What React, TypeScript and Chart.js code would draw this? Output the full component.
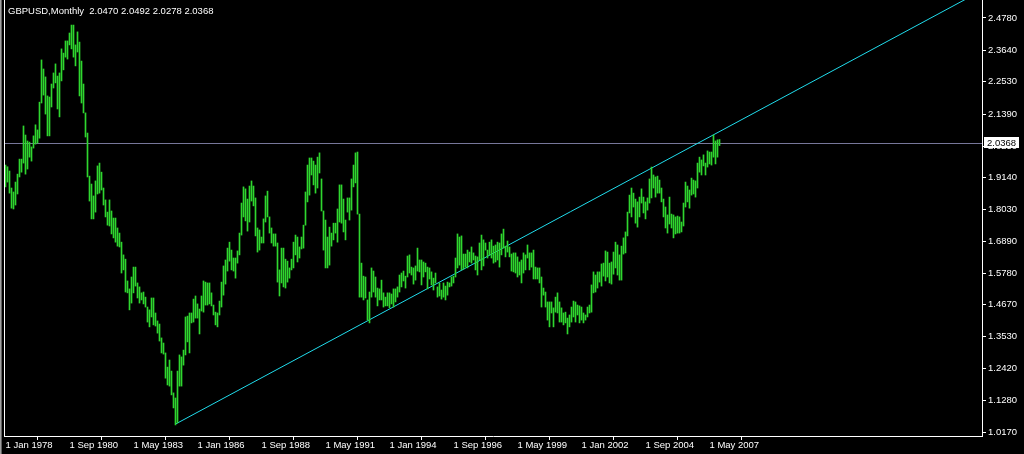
import React, { useEffect, useRef } from "react";
import { Chart, registerables } from "chart.js";

Chart.register(...registerables);

// ---- data (monthly bars from Jan 1978, index 0 = Jan 1978) ----
const SYMBOL_TITLE = "GBPUSD,Monthly  2.0470 2.0492 2.0278 2.0368";
const BID_PRICE = 2.0368;

const monthHighs = [
  1.959, 1.953, 1.938, 1.878, 1.864, 1.899, 1.927, 1.980, 1.980, 2.097,
  2.065, 2.044, 2.040, 2.023, 2.062, 2.101, 2.083, 2.181, 2.330, 2.298,
  2.270, 2.203, 2.199, 2.245, 2.284, 2.316, 2.273, 2.284, 2.369, 2.354,
  2.397, 2.397, 2.425, 2.453, 2.453, 2.383, 2.429, 2.393, 2.326, 2.245,
  2.143, 2.072, 1.920, 1.892, 1.850, 1.903, 1.956, 1.966, 1.934, 1.878,
  1.836, 1.793, 1.836, 1.797, 1.772, 1.772, 1.737, 1.719, 1.687, 1.642,
  1.627, 1.550, 1.522, 1.564, 1.599, 1.599, 1.543, 1.529, 1.508, 1.511,
  1.493, 1.458, 1.448, 1.490, 1.490, 1.437, 1.409, 1.398, 1.349, 1.331,
  1.296, 1.246, 1.271, 1.232, 1.155, 1.137, 1.232, 1.289, 1.282, 1.306,
  1.423, 1.426, 1.437, 1.437, 1.486, 1.497, 1.469, 1.451, 1.497, 1.550,
  1.546, 1.543, 1.543, 1.508, 1.465, 1.440, 1.437, 1.479, 1.546, 1.603,
  1.624, 1.666, 1.687, 1.659, 1.631, 1.631, 1.656, 1.719, 1.825, 1.882,
  1.875, 1.839, 1.885, 1.903, 1.885, 1.843, 1.737, 1.730, 1.705, 1.769,
  1.850, 1.867, 1.776, 1.737, 1.716, 1.716, 1.684, 1.589, 1.666, 1.666,
  1.627, 1.620, 1.596, 1.627, 1.687, 1.712, 1.705, 1.670, 1.705, 1.747,
  1.864, 1.959, 1.984, 1.984, 1.973, 1.959, 1.987, 2.002, 1.910, 1.797,
  1.765, 1.705, 1.740, 1.719, 1.754, 1.754, 1.804, 1.889, 1.889, 1.839,
  1.765, 1.843, 1.843, 1.910, 1.959, 2.002, 2.005, 1.786, 1.613, 1.567,
  1.564, 1.483, 1.511, 1.596, 1.585, 1.564, 1.525, 1.522, 1.553, 1.508,
  1.493, 1.508, 1.508, 1.504, 1.522, 1.522, 1.529, 1.571, 1.578, 1.585,
  1.567, 1.638, 1.642, 1.599, 1.596, 1.603, 1.666, 1.624, 1.624, 1.617,
  1.613, 1.599, 1.596, 1.582, 1.560, 1.578, 1.529, 1.543, 1.518, 1.543,
  1.532, 1.546, 1.543, 1.564, 1.567, 1.631, 1.716, 1.705, 1.709, 1.645,
  1.645, 1.659, 1.652, 1.670, 1.649, 1.638, 1.635, 1.684, 1.712, 1.695,
  1.684, 1.659, 1.687, 1.695, 1.673, 1.677, 1.687, 1.684, 1.716, 1.733,
  1.673, 1.691, 1.670, 1.645, 1.649, 1.649, 1.635, 1.617, 1.624, 1.649,
  1.642, 1.677, 1.649, 1.649, 1.659, 1.599, 1.596, 1.596, 1.564, 1.525,
  1.511, 1.476, 1.476, 1.476, 1.455, 1.493, 1.508, 1.476, 1.455, 1.437,
  1.440, 1.419, 1.430, 1.458, 1.479, 1.476, 1.465, 1.462, 1.458, 1.437,
  1.430, 1.458, 1.465, 1.536, 1.582, 1.571, 1.582, 1.582, 1.610, 1.613,
  1.656, 1.652, 1.613, 1.617, 1.652, 1.687, 1.677, 1.642, 1.673, 1.702,
  1.723, 1.793, 1.853, 1.878, 1.860, 1.839, 1.829, 1.846, 1.875, 1.846,
  1.829, 1.843, 1.910, 1.952, 1.924, 1.917, 1.920, 1.906, 1.878, 1.839,
  1.811, 1.783, 1.846, 1.786, 1.783, 1.776, 1.779, 1.776, 1.758, 1.825,
  1.899, 1.885, 1.871, 1.913, 1.906, 1.903, 1.966, 1.987, 1.977, 1.995,
  1.966, 2.009, 2.005, 2.005, 2.065, 2.044, 2.048, 2.0492,
];

const monthLows = [
  1.882, 1.899, 1.860, 1.807, 1.804, 1.818, 1.857, 1.917, 1.934, 1.966,
  1.927, 1.945, 1.987, 1.973, 2.019, 2.033, 2.037, 2.054, 2.178, 2.206,
  2.139, 2.062, 2.062, 2.164, 2.231, 2.249, 2.157, 2.129, 2.256, 2.295,
  2.340, 2.333, 2.383, 2.369, 2.340, 2.309, 2.358, 2.203, 2.178, 2.143,
  2.058, 1.917, 1.832, 1.769, 1.769, 1.793, 1.857, 1.860, 1.871, 1.818,
  1.776, 1.747, 1.744, 1.716, 1.702, 1.687, 1.673, 1.670, 1.578, 1.589,
  1.511, 1.508, 1.448, 1.472, 1.508, 1.532, 1.490, 1.472, 1.483, 1.469,
  1.458, 1.405, 1.388, 1.423, 1.395, 1.391, 1.366, 1.338, 1.296, 1.292,
  1.207, 1.183, 1.179, 1.148, 1.102, 1.042, 1.049, 1.179, 1.179, 1.253,
  1.289, 1.335, 1.296, 1.402, 1.405, 1.419, 1.419, 1.363, 1.444, 1.440,
  1.465, 1.465, 1.469, 1.462, 1.430, 1.395, 1.388, 1.430, 1.458, 1.500,
  1.539, 1.585, 1.620, 1.589, 1.585, 1.560, 1.613, 1.642, 1.712, 1.776,
  1.762, 1.726, 1.758, 1.832, 1.815, 1.709, 1.652, 1.659, 1.684, 1.684,
  1.758, 1.776, 1.719, 1.684, 1.673, 1.673, 1.546, 1.497, 1.543, 1.529,
  1.525, 1.546, 1.560, 1.589, 1.596, 1.642, 1.617, 1.631, 1.663, 1.666,
  1.747, 1.829, 1.853, 1.924, 1.889, 1.860, 1.878, 1.931, 1.797, 1.659,
  1.596, 1.596, 1.606, 1.673, 1.695, 1.719, 1.687, 1.758, 1.754, 1.723,
  1.695, 1.793, 1.765, 1.800, 1.882, 1.896, 1.786, 1.493, 1.493, 1.483,
  1.490, 1.412, 1.402, 1.493, 1.511, 1.493, 1.462, 1.483, 1.483, 1.458,
  1.462, 1.462, 1.455, 1.469, 1.458, 1.476, 1.493, 1.511, 1.529, 1.550,
  1.525, 1.564, 1.578, 1.571, 1.539, 1.553, 1.585, 1.582, 1.536, 1.564,
  1.582, 1.522, 1.557, 1.536, 1.518, 1.543, 1.493, 1.497, 1.486, 1.493,
  1.483, 1.500, 1.529, 1.532, 1.543, 1.564, 1.596, 1.606, 1.589, 1.592,
  1.599, 1.596, 1.617, 1.613, 1.624, 1.589, 1.571, 1.624, 1.589, 1.603,
  1.659, 1.631, 1.642, 1.631, 1.613, 1.617, 1.624, 1.599, 1.642, 1.666,
  1.635, 1.652, 1.635, 1.585, 1.582, 1.578, 1.564, 1.571, 1.543, 1.578,
  1.589, 1.631, 1.589, 1.599, 1.557, 1.557, 1.557, 1.543, 1.458, 1.500,
  1.458, 1.412, 1.388, 1.437, 1.388, 1.440, 1.437, 1.405, 1.405, 1.395,
  1.402, 1.363, 1.388, 1.405, 1.423, 1.405, 1.430, 1.402, 1.412, 1.402,
  1.412, 1.423, 1.437, 1.440, 1.508, 1.511, 1.525, 1.546, 1.532, 1.567,
  1.550, 1.564, 1.543, 1.539, 1.574, 1.596, 1.571, 1.553, 1.553, 1.645,
  1.649, 1.709, 1.790, 1.776, 1.811, 1.754, 1.740, 1.776, 1.825, 1.790,
  1.769, 1.800, 1.825, 1.843, 1.878, 1.846, 1.860, 1.860, 1.829, 1.776,
  1.737, 1.719, 1.751, 1.737, 1.702, 1.716, 1.719, 1.719, 1.723, 1.744,
  1.811, 1.829, 1.807, 1.853, 1.857, 1.846, 1.878, 1.934, 1.924, 1.956,
  1.924, 1.952, 1.963, 1.959, 1.987, 1.963, 1.987, 2.0278,
];

const xTickMonths = [0, 32, 64, 96, 128, 160, 192, 224, 256, 288, 320, 352];
const xTickLabels = [
  "1 Jan 1978", "1 Sep 1980", "1 May 1983", "1 Jan 1986", "1 Sep 1988", "1 May 1991",
  "1 Jan 1994", "1 Sep 1996", "1 May 1999", "1 Jan 2002", "1 Sep 2004", "1 May 2007",
];
const yTickValues = [
  2.478, 2.364, 2.253, 2.139, 2.025, 1.914, 1.803, 1.689, 1.578, 1.467, 1.353, 1.242, 1.128, 1.017,
];

// trend line: from the Feb 1985 low, extended as a ray to the right
const trendMonths = [85, 480];
const trendPrices = [1.045, 2.544];

// visible ranges
const X_MIN = -0.75;
const X_MAX = 488.25;
const Y_MIN = 1.0029;
const Y_MAX = 2.5415;

// ---- style ----
const BG = "#000000";
const BAR_COLOR = "#2fd62f";
const TREND_COLOR = "#20dcec";
const BID_COLOR = "#77779a";
const AXIS_COLOR = "#ffffff";
const FONT_FAMILY = "'Liberation Sans', Arial, sans-serif";

const overlayPlugin = {
  id: "mt4Overlay",
  beforeDraw(chart: any) {
    const { ctx, width, height } = chart;
    ctx.save();
    ctx.fillStyle = BG;
    ctx.fillRect(0, 0, width, height);
    ctx.restore();
  },
  beforeDatasetsDraw(chart: any) {
    const { ctx, chartArea, scales } = chart;
    const y = Math.round(scales.y.getPixelForValue(BID_PRICE));
    ctx.save();
    ctx.fillStyle = BID_COLOR;
    ctx.fillRect(chartArea.left, y, chartArea.right - chartArea.left, 1);
    ctx.restore();
  },
  afterDraw(chart: any) {
    const { ctx, chartArea, scales, height } = chart;
    ctx.save();
    // window frame on the far left
    ctx.fillStyle = "#a0a0a0";
    ctx.fillRect(0, 0, 1, height);
    ctx.fillStyle = "#606060";
    ctx.fillRect(1, 0, 1, height);
    // left border of the plot
    ctx.fillStyle = AXIS_COLOR;
    ctx.fillRect(Math.round(chartArea.left), 0, 1, Math.round(chartArea.bottom) + 1);
    // title
    ctx.font = `9.5px ${FONT_FAMILY}`;
    ctx.fillStyle = "#ffffff";
    ctx.textBaseline = "alphabetic";
    ctx.textAlign = "left";
    ctx.fillText(SYMBOL_TITLE, 8, 14);
    // bid price label
    const y = Math.round(scales.y.getPixelForValue(BID_PRICE));
    const x0 = Math.round(chartArea.right) + 2;
    ctx.fillStyle = "#ffffff";
    ctx.fillRect(x0, y - 6, 35, 11);
    ctx.fillStyle = "#000000";
    ctx.textBaseline = "middle";
    ctx.fillText(BID_PRICE.toFixed(4), x0 + 3, y);
    ctx.restore();
  },
};

export default function App() {
  const canvasRef = useRef<HTMLCanvasElement | null>(null);

  useEffect(() => {
    const canvas = canvasRef.current;
    if (!canvas) return;

    const barData = monthHighs.map((h, i) => ({ x: i, y: [monthLows[i], h] }));
    const trendData = trendMonths.map((m, k) => ({ x: m, y: trendPrices[k] }));

    const tickFont = { family: FONT_FAMILY, size: 9.5 };

    const chart = new Chart(canvas, {
      type: "bar",
      data: {
        datasets: [
          {
            type: "bar",
            data: barData as any,
            backgroundColor: BAR_COLOR,
            borderWidth: 0,
            barThickness: 1,
          } as any,
          {
            type: "line",
            data: trendData as any,
            borderColor: TREND_COLOR,
            borderWidth: 1,
            pointRadius: 0,
            fill: false,
            tension: 0,
          } as any,
        ],
      },
      options: {
        animation: false,
        responsive: false,
        maintainAspectRatio: false,
        parsing: true,
        layout: { padding: { left: 4, top: 0, right: 0, bottom: 0 } },
        plugins: {
          legend: { display: false },
          tooltip: { enabled: false },
          title: { display: false },
        },
        scales: {
          x: {
            type: "linear",
            position: "bottom",
            min: X_MIN,
            max: X_MAX,
            offset: false,
            afterBuildTicks: (s: any) => {
              s.ticks = xTickMonths.map((v) => ({ value: v }));
            },
            afterFit: (s: any) => {
              s.height = 18;
              s.paddingLeft = 0;
              s.paddingRight = 0;
            },
            ticks: {
              autoSkip: false,
              maxRotation: 0,
              minRotation: 0,
              align: "start",
              padding: 0,
              color: AXIS_COLOR,
              font: tickFont,
              callback: (value: any) => {
                const k = xTickMonths.indexOf(Number(value));
                return k >= 0 ? xTickLabels[k] : "";
              },
            },
            grid: {
              display: true,
              drawOnChartArea: false,
              drawTicks: true,
              tickLength: 4,
              color: AXIS_COLOR,
              lineWidth: 1,
            },
            border: { display: true, color: AXIS_COLOR, width: 1 },
          } as any,
          y: {
            type: "linear",
            position: "right",
            min: Y_MIN,
            max: Y_MAX,
            afterBuildTicks: (s: any) => {
              s.ticks = yTickValues.map((v) => ({ value: v }));
            },
            afterFit: (s: any) => {
              s.width = 42;
              s.paddingTop = 0;
              s.paddingBottom = 0;
            },
            ticks: {
              autoSkip: false,
              padding: 2,
              color: AXIS_COLOR,
              font: tickFont,
              crossAlign: "near",
              callback: (value: any) => Number(value).toFixed(4),
            },
            grid: {
              display: true,
              drawOnChartArea: false,
              drawTicks: true,
              tickLength: 4,
              color: AXIS_COLOR,
              lineWidth: 1,
            },
            border: { display: true, color: AXIS_COLOR, width: 1 },
          } as any,
        },
      },
      plugins: [overlayPlugin],
    });

    return () => chart.destroy();
  }, []);

  return (
    <div
      style={{
        position: "fixed",
        left: 0,
        top: 0,
        width: 1024,
        height: 454,
        background: BG,
        overflow: "hidden",
      }}
    >
      <canvas
        ref={canvasRef}
        width={1024}
        height={454}
        style={{ display: "block", width: 1024, height: 454 }}
      />
    </div>
  );
}
